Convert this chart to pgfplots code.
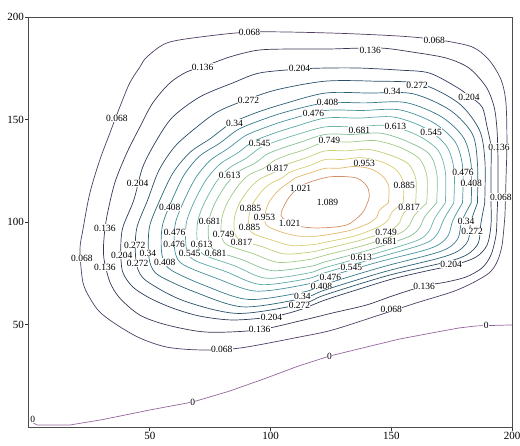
\documentclass[border=0pt]{standalone}
\usepackage{fontspec}
\setmainfont{Liberation Serif}
\usepackage{pgfplots}
\pgfplotsset{compat=1.18}
\definecolor{c00}{RGB}{150,100,160}
\definecolor{c01}{RGB}{80,62,100}
\definecolor{c02}{RGB}{55,55,85}
\definecolor{c03}{RGB}{45,60,92}
\definecolor{c04}{RGB}{40,78,104}
\definecolor{c05}{RGB}{42,98,118}
\definecolor{c06}{RGB}{52,122,138}
\definecolor{c07}{RGB}{68,146,156}
\definecolor{c08}{RGB}{88,166,166}
\definecolor{c09}{RGB}{108,182,166}
\definecolor{c10}{RGB}{132,192,150}
\definecolor{c11}{RGB}{162,202,134}
\definecolor{c12}{RGB}{192,206,118}
\definecolor{c13}{RGB}{216,204,112}
\definecolor{c14}{RGB}{226,184,108}
\definecolor{c15}{RGB}{212,142,100}
\tikzset{lab/.style={fill=white, inner sep=0.3pt, font=\fontsize{9.5}{9.5}\selectfont}}
\begin{document}
\begin{tikzpicture}
\path[use as bounding box] (-29pt,-18pt) rectangle (491pt,427pt);
\begin{axis}[at={(0,0)}, anchor=south west, scale only axis,
  width=483pt, height=410pt,
  xmin=0, xmax=200, ymin=0, ymax=200,
  xtick={50,100,150,200}, ytick={50,100,150,200},
  tick align=outside, tick pos=left, major tick length=3.5pt,
  tick style={black!80, line width=0.8pt},
  axis line style={black!70, line width=1pt},
  ticklabel style={font=\fontsize{11}{11}\selectfont, inner sep=1.5pt},
  /pgf/number format/assume math mode=true,
  every axis plot/.append style={line width=0.7pt, smooth, no markers},
]
% level 0
\addplot[draw=c00, sharp plot] coordinates {(0.3,3.0) (3.3,1.0) (17.0,1.0) (30.0,3.5) (50.0,8.3) (67.8,12.2) (83.0,17.5) (98.3,23.9) (111.0,29.5) (124.4,34.6) (139.7,39.0) (153.0,42.8) (166.9,45.9) (178.0,48.3) (185.1,49.3) (200,49.8)};
% level 0.068
\addplot[draw=c01] coordinates {(197.1,103.4) (197.5,120.5) (197.9,138.5) (197.5,158.0) (195.5,169.3) (190.5,179.0) (183.5,185.4) (169.8,188.8) (153.3,190.7) (124.4,192.2) (92.6,192.7) (70.7,190.2) (57.0,187.3) (48.8,180.5) (45.9,175.6) (41.7,167.8) (37.6,156.1) (33.5,143.4) (29.3,130.2) (25.2,114.1) (22.3,96.1) (21.1,86.3) (22.3,70.7) (25.2,62.9) (29.3,56.1) (36.4,49.8) (45.9,43.4) (57.0,39.0) (70.7,37.6) (87.2,38.5) (112.0,43.9) (125.6,47.3) (145.0,54.6) (160.3,60.5) (175.2,65.9) (183.5,70.2) (190.5,75.1) (193.8,80.5) (195.9,88.8) (197.1,103.4)};
% level 0.136
\addplot[draw=c02] coordinates {(193.8,103.4) (194.2,115.6) (194.2,130.2) (193.8,144.9) (192.6,156.1) (189.3,165.9) (182.2,175.1) (172.7,180.0) (158.7,182.9) (145.0,184.9) (124.4,184.4) (112.0,184.4) (95.4,183.9) (83.1,180.5) (71.9,175.6) (65.3,173.2) (58.3,167.8) (51.2,158.0) (45.9,146.3) (40.5,133.7) (35.5,119.0) (32.2,102.4) (31.0,91.2) (31.0,82.4) (33.5,70.7) (37.6,62.9) (45.9,54.6) (57.0,49.8) (73.5,46.3) (94.6,47.3) (112.0,51.7) (125.6,55.6) (139.7,59.5) (150.4,63.9) (163.6,68.8) (172.7,70.7) (181.0,73.2) (187.6,77.6) (191.3,83.9) (193.4,93.7) (193.8,103.4)};
% level 0.204
\addplot[draw=c03] coordinates {(191.3,109.3) (191.3,122.9) (191.3,136.6) (189.7,146.3) (187.6,156.1) (182.2,161.5) (176.9,165.9) (165.7,172.7) (153.3,174.1) (136.8,175.1) (122.7,175.1) (112.0,174.6) (95.5,172.7) (84.3,167.8) (70.7,161.0) (59.5,151.2) (52.9,140.0) (47.1,126.8) (43.4,110.7) (38.8,97.1) (38.0,86.3) (38.8,75.6) (43.0,68.3) (50.0,62.9) (59.5,58.0) (70.7,54.1) (84.3,52.2) (100.4,53.7) (112.0,57.1) (122.7,62.0) (136.8,67.3) (150.4,72.2) (164.5,76.1) (176.0,79.0) (185.1,82.9) (189.7,88.8) (191.3,98.5) (191.3,109.3)};
% level 0.272
\addplot[draw=c04] coordinates {(188.7,109.3) (188.8,129.4) (186.6,144.6) (178.0,157.9) (162.1,167.4) (142.8,168.7) (122.7,168.7) (102.9,164.6) (89.7,159.5) (78.0,153.7) (68.4,145.3) (60.3,136.7) (53.8,125.2) (49.1,110.6) (44.8,97.9) (44.0,87.9) (44.8,78.0) (48.7,71.2) (64.0,61.6) (86.4,55.4) (112.6,59.9) (122.7,64.5) (149.0,74.0) (173.2,80.6) (181.7,84.3) (186.1,89.9) (187.1,99.2) (188.7,109.3)};
% level 0.34
\addplot[draw=c05] coordinates {(185.7,109.3) (185.7,128.5) (183.6,142.9) (174.3,154.6) (158.8,162.6) (140.8,162.9) (122.7,162.9) (105.4,157.6) (93.8,153.2) (83.6,148.1) (75.2,140.8) (66.6,133.9) (59.6,123.9) (54.1,110.5) (50.1,98.7) (49.4,89.4) (50.1,80.1) (53.8,73.9) (69.0,65.7) (88.6,58.6) (113.1,62.7) (122.7,66.9) (147.7,75.9) (169.9,82.4) (177.9,86.0) (181.9,91.2) (182.9,99.8) (185.7,109.3)};
% level 0.408
\addplot[draw=c06] coordinates {(183.1,109.3) (183.1,127.7) (180.0,141.0) (170.7,151.4) (155.9,158.3) (139.2,158.1) (122.7,158.1) (106.7,153.8) (96.1,149.7) (86.6,145.1) (78.9,138.4) (70.6,132.1) (64.2,122.9) (59.1,110.4) (55.5,99.5) (54.7,90.8) (55.4,82.2) (58.9,76.5) (73.0,68.9) (91.0,62.2) (113.8,65.9) (122.7,69.7) (146.1,78.0) (166.7,84.3) (174.0,87.6) (177.8,92.4) (179.2,100.4) (183.1,109.3)};
% level 0.476
\addplot[draw=c07] coordinates {(179.5,109.3) (179.6,126.6) (176.5,139.0) (167.4,148.5) (153.5,154.7) (137.9,154.4) (122.7,154.4) (108.1,150.1) (98.3,146.3) (89.6,142.1) (82.6,136.0) (75.1,130.1) (69.1,121.7) (64.1,110.2) (60.8,100.3) (60.1,92.3) (60.7,84.3) (64.0,79.1) (77.5,72.6) (93.8,66.3) (114.5,69.5) (122.7,72.9) (144.4,80.4) (163.4,86.1) (170.1,89.3) (173.7,93.7) (175.6,101.0) (179.5,109.3)};
% level 0.545
\addplot[draw=c08] coordinates {(175.9,109.3) (176.0,125.5) (172.9,137.0) (164.2,145.7) (151.1,151.2) (136.7,150.7) (122.7,150.7) (109.4,146.3) (100.5,142.9) (92.6,139.1) (86.3,133.6) (79.1,128.3) (73.4,120.7) (68.5,110.1) (65.4,100.9) (64.8,93.5) (65.4,86.2) (68.4,81.4) (81.5,75.8) (95.9,69.5) (115.1,72.3) (122.7,75.3) (143.0,82.2) (160.2,88.0) (166.3,90.9) (169.5,95.0) (171.9,101.6) (175.9,109.3)};
% level 0.613
\addplot[draw=c09] coordinates {(172.4,109.3) (172.4,124.4) (169.3,135.1) (160.5,142.5) (148.4,147.1) (135.2,146.4) (122.7,146.4) (110.8,142.6) (102.7,139.5) (95.6,136.1) (89.9,131.1) (83.1,126.5) (77.7,119.8) (72.9,110.0) (70.1,101.6) (69.5,94.8) (70.0,88.1) (72.9,83.7) (85.0,78.7) (98.1,72.6) (115.7,75.1) (122.7,77.8) (141.7,84.0) (157.4,89.6) (162.9,92.3) (165.9,96.1) (168.2,102.2) (172.4,109.3)};
% level 0.681
\addplot[draw=c10] coordinates {(168.8,109.3) (168.9,123.3) (165.8,133.1) (156.8,139.2) (145.8,143.3) (134.0,142.7) (122.7,142.7) (112.1,138.8) (105.0,136.1) (98.6,133.1) (93.6,128.7) (87.1,124.8) (82.0,118.8) (77.3,109.9) (74.8,102.3) (74.2,96.1) (74.7,89.9) (77.3,86.0) (88.5,81.5) (100.5,76.3) (116.3,78.3) (122.7,80.6) (140.1,86.1) (154.1,91.4) (159.0,94.0) (161.8,97.3) (164.0,102.8) (168.8,109.3)};
% level 0.749
\addplot[draw=c11] coordinates {(164.7,109.3) (164.8,122.1) (161.7,130.8) (153.6,136.4) (143.4,139.7) (132.7,139.0) (122.7,139.0) (113.5,135.0) (107.2,132.7) (101.6,130.0) (97.3,126.3) (91.1,123.0) (86.6,117.7) (82.3,109.8) (80.1,103.1) (79.5,97.5) (80.0,92.0) (82.4,88.6) (92.5,84.7) (103.3,80.3) (117.1,81.9) (122.7,83.8) (138.4,88.5) (150.9,93.3) (155.2,95.6) (157.6,98.6) (159.8,103.5) (164.7,109.3)};
% level 0.817
\addplot[draw=c12] coordinates {(160.1,109.3) (160.2,120.7) (157.1,128.3) (149.4,132.7) (140.5,135.4) (131.2,134.7) (122.7,134.7) (114.8,131.3) (109.4,129.2) (104.6,127.0) (101.0,123.9) (95.6,121.0) (91.5,116.6) (87.4,109.7) (85.4,103.8) (84.9,99.0) (85.3,94.2) (87.5,91.2) (96.5,88.0) (106.0,84.4) (117.8,85.5) (122.7,86.9) (136.6,90.9) (147.7,95.1) (151.3,97.2) (153.5,99.9) (155.1,104.2) (160.1,109.3)};
% level 0.885
\addplot[draw=c13] coordinates {(154.9,109.3) (155.1,119.1) (152.0,125.5) (145.7,129.5) (137.7,131.4) (129.8,130.5) (122.7,130.5) (116.2,127.5) (111.6,125.8) (107.6,124.0) (104.6,121.4) (100.2,118.9) (96.7,115.4) (93.0,109.6) (91.4,104.7) (90.9,100.6) (91.3,96.5) (93.2,94.1) (100.5,91.2) (108.8,88.5) (118.6,89.1) (122.7,90.1) (134.9,93.2) (144.0,97.2) (146.9,99.1) (148.9,101.3) (150.4,105.0) (154.9,109.3)};
% level 0.953
\addplot[draw=c14] coordinates {(148.8,109.3) (149.0,117.3) (146.4,122.4) (141.5,125.9) (134.8,127.1) (128.3,126.2) (122.7,126.2) (117.4,124.3) (113.6,122.9) (110.2,121.4) (107.8,119.4) (104.8,116.9) (102.2,114.1) (99.3,109.5) (98.1,105.6) (97.6,102.4) (97.9,99.2) (99.6,97.4) (105.0,94.9) (111.8,93.1) (119.4,93.1) (122.7,93.6) (132.9,95.9) (140.4,99.2) (142.6,100.9) (144.2,102.7) (145.1,105.8) (148.8,109.3)};
% level 1.021
\addplot[draw=c15] coordinates {(140.1,109.3) (140.9,112.2) (140.1,117.1) (135.5,121.5) (124.4,122.0) (113.2,118.0) (107.8,112.2) (104.5,104.9) (105.0,102.0) (109.1,98.5) (119.0,97.1) (131.4,98.5) (138.0,104.4) (140.1,109.3)};
% labels
\node[lab] at (axis cs:91.3,192.7) {0.068};
\node[lab] at (axis cs:167.8,188.8) {0.068};
\node[lab] at (axis cs:71.9,175.6) {0.136};
\node[lab] at (axis cs:141.3,183.9) {0.136};
\node[lab] at (axis cs:112.0,175.1) {0.204};
\node[lab] at (axis cs:182.2,161.0) {0.204};
\node[lab] at (axis cs:90.9,159.5) {0.272};
\node[lab] at (axis cs:160.7,166.8) {0.272};
\node[lab] at (axis cs:150.4,163.9) {0.34};
\node[lab] at (axis cs:123.6,158.5) {0.408};
\node[lab] at (axis cs:117.8,153.2) {0.476};
\node[lab] at (axis cs:85.1,148.3) {0.34};
\node[lab] at (axis cs:95.5,138.5) {0.545};
\node[lab] at (axis cs:136.8,144.9) {0.681};
\node[lab] at (axis cs:151.7,146.8) {0.613};
\node[lab] at (axis cs:166.5,143.9) {0.545};
\node[lab] at (axis cs:124.4,140.0) {0.749};
\node[lab] at (axis cs:138.8,128.8) {0.953};
\node[lab] at (axis cs:102.9,126.3) {0.817};
\node[lab] at (axis cs:83.1,122.9) {0.613};
\node[lab] at (axis cs:45.0,119.0) {0.204};
\node[lab] at (axis cs:36.4,150.7) {0.068};
\node[lab] at (axis cs:112.4,116.6) {1.021};
\node[lab] at (axis cs:123.6,109.8) {1.089};
\node[lab] at (axis cs:107.9,99.5) {1.021};
\node[lab] at (axis cs:155.4,118.0) {0.885};
\node[lab] at (axis cs:157.4,107.3) {0.817};
\node[lab] at (axis cs:179.7,124.1) {0.476};
\node[lab] at (axis cs:183.1,118.8) {0.408};
\node[lab] at (axis cs:194.6,136.6) {0.136};
\node[lab] at (axis cs:195.4,112.2) {0.068};
\node[lab] at (axis cs:181.0,100.2) {0.34};
\node[lab] at (axis cs:183.5,95.4) {0.272};
\node[lab] at (axis cs:147.9,95.0) {0.749};
\node[lab] at (axis cs:147.9,90.3) {0.681};
\node[lab] at (axis cs:137.6,82.9) {0.613};
\node[lab] at (axis cs:133.5,78.0) {0.545};
\node[lab] at (axis cs:124.8,73.2) {0.476};
\node[lab] at (axis cs:121.1,68.8) {0.408};
\node[lab] at (axis cs:113.2,63.9) {0.34};
\node[lab] at (axis cs:112.0,59.3) {0.272};
\node[lab] at (axis cs:100.4,53.7) {0.204};
\node[lab] at (axis cs:174.8,79.5) {0.204};
\node[lab] at (axis cs:95.5,47.8) {0.136};
\node[lab] at (axis cs:163.6,68.8) {0.136};
\node[lab] at (axis cs:79.8,38.0) {0.068};
\node[lab] at (axis cs:150.0,57.6) {0.068};
\node[lab] at (axis cs:67.8,12.2) {0};
\node[lab] at (axis cs:124.4,34.6) {0};
\node[lab] at (axis cs:189.3,49.8) {0};
\node[lab] at (axis cs:1.6,3.8) {0};
\node[lab] at (axis cs:21.9,82.0) {0.068};
\node[lab] at (axis cs:31.4,97.1) {0.136};
\node[lab] at (axis cs:31.4,78.0) {0.136};
\node[lab] at (axis cs:38.4,83.9) {0.204};
\node[lab] at (axis cs:43.8,88.8) {0.272};
\node[lab] at (axis cs:45.0,80.0) {0.272};
\node[lab] at (axis cs:49.2,84.9) {0.34};
\node[lab] at (axis cs:56.2,80.5) {0.408};
\node[lab] at (axis cs:60.3,94.8) {0.476};
\node[lab] at (axis cs:60.1,89.3) {0.476};
\node[lab] at (axis cs:66.5,84.8) {0.545};
\node[lab] at (axis cs:71.5,89.3) {0.613};
\node[lab] at (axis cs:77.3,84.8) {0.681};
\node[lab] at (axis cs:74.8,100.5) {0.681};
\node[lab] at (axis cs:80.6,93.9) {0.749};
\node[lab] at (axis cs:88.0,90.2) {0.817};
\node[lab] at (axis cs:91.3,97.6) {0.885};
\node[lab] at (axis cs:91.7,106.8) {0.885};
\node[lab] at (axis cs:97.5,102.4) {0.953};
\node[lab] at (axis cs:58.3,107.3) {0.408};
\end{axis}
\end{tikzpicture}
\end{document}
